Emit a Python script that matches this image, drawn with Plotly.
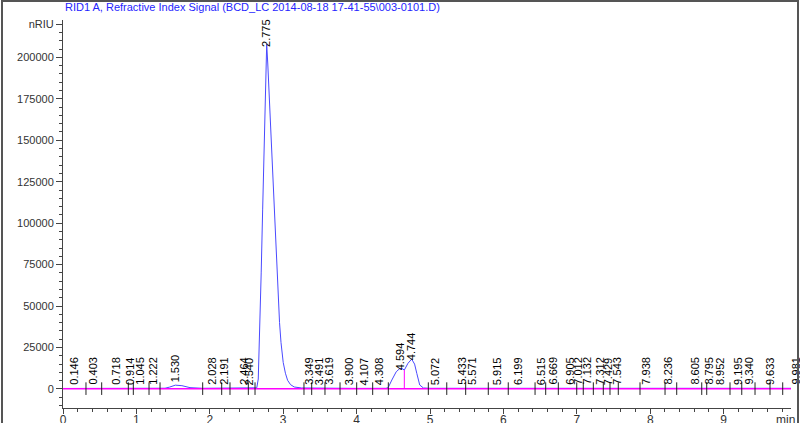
import plotly.graph_objects as go

# chromatogram signal (min, nRIU)
sig_t = [0.00, 0.30, 0.60, 0.90, 1.20, 1.39, 1.45, 1.53, 1.62, 1.73, 1.90, 2.30, 2.60,
         2.64, 2.66, 2.68, 2.70, 2.72, 2.74, 2.76, 2.775, 2.79, 2.82, 2.85, 2.875, 2.90,
         2.93, 2.95, 2.97, 3.00, 3.03, 3.06, 3.10, 3.15, 3.25, 3.50, 4.00, 4.40,
         4.43, 4.48, 4.54, 4.59, 4.62, 4.65, 4.70, 4.75, 4.79, 4.82, 4.86, 4.91,
         5.00, 6.00, 7.00, 8.00, 9.00, 9.95]
sig_v = [300, 400, 300, 350, 400, 450, 1100, 2300, 2000, 800, 400, 350, 400,
         700, 6000, 32000, 70000, 108000, 148000, 190000, 208000, 196000, 166000, 132000, 108000, 82000,
         54000, 40000, 28000, 16000, 9500, 5200, 2600, 1200, 600, 400, 350, 400,
         800, 5400, 10400, 12400, 12300, 11400, 15500, 18000, 15000, 9400, 2400, 600,
         400, 400, 350, 400, 350, 400]

baseline_t = [0.0, 9.95]
baseline_v = [200, 200]

# drop line between the two small peaks
drop_t = [4.65, 4.65]
drop_v = [200, 11400]

# integration start/stop marks on the baseline
mark_t = [0.313, 0.527, 0.890, 0.958, 1.172, 1.322, 1.903, 2.162, 2.275, 2.525, 2.616,
          3.283, 3.388, 3.569, 3.774, 4.001, 4.219, 4.432, 4.977, 5.228, 5.486, 5.794,
          6.066, 6.431, 6.576, 6.748, 6.999, 7.088, 7.225, 7.361, 7.452, 7.565, 7.861,
          8.202, 8.361, 8.702, 8.770, 9.087, 9.247, 9.428, 9.632, 9.805]

peak_rt = [0.146, 0.403, 0.718, 0.914, 1.045, 1.222, 1.530, 2.028, 2.191, 2.464, 2.540,
           2.775, 3.349, 3.491, 3.619, 3.900, 4.107, 4.308, 4.594, 4.744, 5.072, 5.433,
           5.571, 5.915, 6.199, 6.515, 6.669, 6.905, 7.012, 7.132, 7.312, 7.429, 7.543,
           7.938, 8.236, 8.605, 8.795, 8.952, 9.195, 9.340, 9.633, 9.981]
peak_height = [2800] * len(peak_rt)
peak_height[peak_rt.index(1.530)] = 4600
peak_height[peak_rt.index(2.775)] = 206500
peak_height[peak_rt.index(4.594)] = 11800
peak_height[peak_rt.index(4.744)] = 17900

y_ticks = [0, 25000, 50000, 75000, 100000, 125000, 150000, 175000, 200000, 220000]
y_ticktext = [str(v) for v in y_ticks[:-1]] + ["nRIU"]
x_ticks = list(range(10))

font = "Arial, Liberation Sans, sans-serif"
x_max = 9.918

fig = go.Figure()
fig.add_trace(go.Scatter(x=sig_t, y=sig_v, mode="lines",
                         line=dict(color="#4a4aff", width=1), hoverinfo="skip"))
fig.add_trace(go.Scatter(x=baseline_t, y=baseline_v, mode="lines",
                         line=dict(color="#ff00ff", width=1.5), hoverinfo="skip"))
fig.add_trace(go.Scatter(x=drop_t, y=drop_v, mode="lines",
                         line=dict(color="#ff00ff", width=1), hoverinfo="skip"))
fig.add_trace(go.Scatter(x=mark_t, y=[baseline_v[0]] * len(mark_t), mode="markers",
                         marker=dict(symbol="line-ns-open", size=9, color="#222222",
                                     line=dict(color="#222222", width=1)),
                         hoverinfo="skip"))

# peak labels; paper x so the last one (past the axis end) still shows
for rt, h in zip(peak_rt, peak_height):
    fig.add_annotation(x=rt / x_max, xref="paper", y=h - 1000, yref="y",
                       text=f"{rt:.3f}", textangle=-90,
                       showarrow=False, xanchor="center", yanchor="bottom",
                       font=dict(family=font, size=11, color="#000000"),
                       borderpad=0)

fig.add_annotation(x=9.84, y=0, xref="x", yref="paper", text="min", showarrow=False,
                   yanchor="top", yshift=-3, font=dict(family=font, size=12, color="#333333"))

fig.update_layout(
    width=800, height=423,
    margin=dict(l=63, r=9, t=20, b=15, autoexpand=False),
    paper_bgcolor="white", plot_bgcolor="white",
    showlegend=False,
    font=dict(family=font, size=11, color="#333333"),
    title=dict(text="RID1 A, Refractive Index Signal (BCD_LC 2014-08-18 17-41-55\\003-0101.D)",
               x=65 / 800, xanchor="left", y=1 - 7 / 423, yanchor="middle",
               font=dict(family=font, size=11, color="#2424ff")),
    xaxis=dict(range=[0, x_max], tickvals=x_ticks, showgrid=False, zeroline=False,
               automargin=False,
               showline=True, linecolor="#444444", linewidth=1,
               ticks="outside", ticklen=5, tickcolor="#444444",
               ticklabelstandoff=-4,
               tickfont=dict(size=12, color="#333333"),
               minor=dict(dtick=0.2, ticks="outside", ticklen=3, tickcolor="#444444")),
    yaxis=dict(range=[-11474, 222537], tickvals=y_ticks, ticktext=y_ticktext,
               showgrid=False, zeroline=False, automargin=False,
               showline=True, linecolor="#444444", linewidth=1,
               ticks="outside", ticklen=6, tickcolor="#444444",
               tickfont=dict(size=11, color="#333333"),
               minor=dict(dtick=5000, tick0=0, ticks="outside", ticklen=3, tickcolor="#444444")),
)

# page margin off, plus the grey window frame round the picture
frame_js = (
    "document.body.style.margin='0';"
    "var f=document.createElement('div');"
    "f.style.cssText='position:absolute;left:1px;top:0;width:794px;height:440px;"
    "border:2px solid #555;border-bottom:none;pointer-events:none;';"
    "document.body.appendChild(f);"
)
fig.write_html("out.html", config={"displayModeBar": False}, post_script=frame_js)
